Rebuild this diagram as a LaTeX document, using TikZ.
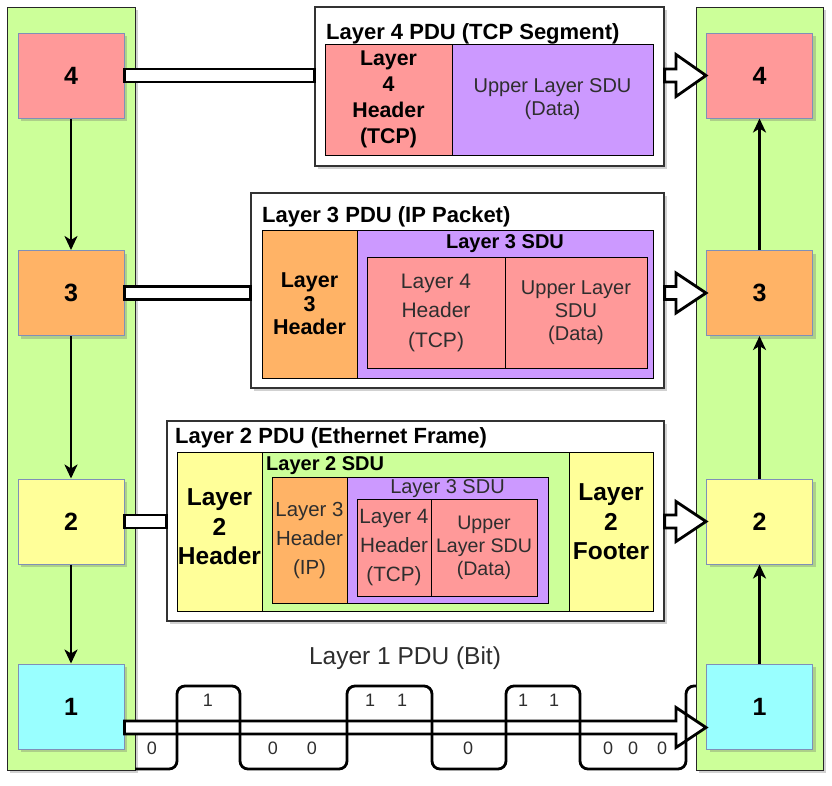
\documentclass[tikz,border=0pt]{standalone}
\usepackage{fontspec}
\setmainfont{Liberation Sans}
\usetikzlibrary{shadows,arrows.meta,calc}
\definecolor{colgreen}{HTML}{CCFF99}
\definecolor{cred}{HTML}{FF9999}
\definecolor{corange}{HTML}{FFB366}
\definecolor{cyellow}{HTML}{FFFF99}
\definecolor{ccyan}{HTML}{99FFFF}
\definecolor{cpurple}{HTML}{CC99FF}
\definecolor{cborder}{HTML}{7F8FB8}
\definecolor{txtgray}{HTML}{2E2E2E}
\newcommand\myfs[2]{\fontsize{#1}{#2}\selectfont}
\newcommand\hollowarrow[3]{%
  \draw[flatbar] let \p1=(#1), \p2=(#2) in
    (\x1,\y1+6.5pt) -- (\x2-30pt,\y1+6.5pt) -- (\x2-30pt,\y1+#3) -- (\x2,\y1)
    -- (\x2-30pt,\y1-#3) -- (\x2-30pt,\y1-6.5pt) -- (\x1,\y1-6.5pt) -- cycle;}
\begin{document}
\begin{tikzpicture}[x=1pt,y=-1pt,
  shad/.style={drop shadow={shadow xshift=3pt,shadow yshift=-3pt,opacity=0.3,fill=black!60}},
  colbox/.style={draw=black!85,line width=1pt,fill=colgreen,shad,minimum height=763pt,inner sep=0pt},
  layerbox/.style={draw=cborder,line width=1pt,shad,minimum width=106pt,minimum height=85pt,inner sep=0pt,font=\bfseries\myfs{25}{30}},
  pdubox/.style={draw=black!80,line width=1.2pt,fill=white,shad,inner sep=0pt},
  inbox/.style={draw=black,line width=1pt,inner sep=0pt,align=center},
  gtext/.style={text=txtgray},
  pdutitle/.style={inner sep=0pt,font=\bfseries\myfs{22}{26},anchor=base west},
  flatbar/.style={draw=black,line width=2.8pt,fill=white},
  vline/.style={draw=black,line width=2.5pt,-{Stealth[length=14pt,width=13pt,inset=4pt]}},
  bitlbl/.style={inner sep=0pt,text=txtgray,font=\myfs{18}{20}},
]
\useasboundingbox (0,0) rectangle (832,785);

% columns
\node[colbox,minimum width=128pt] (colL) at (71,388.5) {};
\node[colbox,minimum width=127pt] (colR) at (759.5,388.5) {};

% layer boxes
\node[layerbox,fill=cred]    (L4) at (71,75.5) {4};
\node[layerbox,fill=corange] (L3) at (71,293) {3};
\node[layerbox,fill=cyellow] (L2) at (71,521.5) {2};
\node[layerbox,fill=ccyan]   (L1) at (71,706.5) {1};
\node[layerbox,fill=cred]    (R4) at (759.5,75.5) {4};
\node[layerbox,fill=corange] (R3) at (759.5,293) {3};
\node[layerbox,fill=cyellow] (R2) at (759.5,521.5) {2};
\node[layerbox,fill=ccyan]   (R1) at (759.5,706.5) {1};

% vertical connectors
\draw[vline] (L4.south) -- (L3.north);
\draw[vline] (L3.south) -- (L2.north);
\draw[vline] (L2.south) -- (L1.north);
\draw[vline] (R1.north) -- (R2.south);
\draw[vline] (R2.north) -- (R3.south);
\draw[vline] (R3.north) -- (R4.south);

% ---- Layer 4 PDU
\node[pdubox,minimum width=349pt,minimum height=159pt] (P4) at (489.5,86.5) {};
\node[pdutitle] (P4t) at (326,39) {Layer 4 PDU (TCP Segment)};
\node[inbox,fill=cred,minimum width=127pt,minimum height=111pt,font=\bfseries\myfs{21.3}{26}] (P4h) at (388.5,99.5) {Layer\\4\\Header\\(TCP)};
\node[inbox,fill=cpurple,minimum width=201pt,minimum height=111pt,gtext,font=\myfs{20}{23}] (P4d) at (552.5,99.5) {Upper Layer SDU\\(Data)};

% ---- Layer 3 PDU
\node[pdubox,minimum width=413pt,minimum height=195pt] (P3) at (457.5,290.5) {};
\node[pdutitle] (P3t) at (262,222) {Layer 3 PDU (IP Packet)};
\node[inbox,fill=corange,minimum width=95pt,minimum height=148pt,font=\bfseries\myfs{21.5}{23.5}] (P3h) at (309.5,304) {Layer\\3\\Header};
\node[inbox,fill=cpurple,minimum width=296pt,minimum height=148pt] (P3s) at (505,304) {};
\node[inner sep=0pt,anchor=base,font=\bfseries\myfs{20}{24}] (P3st) at (505,248) {Layer 3 SDU};
\node[inbox,fill=cred,minimum width=138pt,minimum height=111pt,gtext,font=\myfs{21}{29.5}] (P3a) at (436,312.5) {Layer 4\\Header\\(TCP)};
\node[inbox,fill=cred,minimum width=142pt,minimum height=111pt,gtext,font=\myfs{20}{23}] (P3b) at (576,312.5) {Upper Layer\\SDU\\(Data)};

% ---- Layer 2 PDU
\node[pdubox,minimum width=497pt,minimum height=200pt] (P2) at (415.5,521) {};
\node[pdutitle] (P2t) at (175,443) {Layer 2 PDU (Ethernet Frame)};
\node[inbox,fill=cyellow,minimum width=85pt,minimum height=159pt] (P2h) at (219.5,531.5) {};
\node[inner sep=0pt,align=center,font=\bfseries\myfs{24.5}{29.5}] (P2ht) at (219.5,527) {Layer\\2\\Header};
\node[inbox,fill=colgreen,minimum width=307pt,minimum height=159pt] (P2s) at (415.5,531.5) {};
\node[inbox,fill=cyellow,minimum width=84pt,minimum height=159pt] (P2f) at (611,531.5) {};
\node[inner sep=0pt,align=center,font=\bfseries\myfs{24.5}{29.5}] (P2ft) at (611,522) {Layer\\2\\Footer};
\node[inner sep=0pt,anchor=base west,font=\bfseries\myfs{20}{24}] (P2st) at (266,470) {Layer 2 SDU};
\node[inbox,fill=corange,minimum width=75pt,minimum height=126pt,gtext,font=\myfs{20.4}{29}] (P2a) at (309.5,540) {Layer 3\\Header\\(IP)};
\node[inbox,fill=cpurple,minimum width=201pt,minimum height=126pt] (P2b) at (447.5,540) {};
\node[inner sep=0pt,anchor=base,gtext,font=\myfs{20}{24}] (P2bt) at (447.5,493) {Layer 3 SDU};
\node[inbox,fill=cred,minimum width=74pt,minimum height=97pt,gtext,font=\myfs{20.7}{29}] (P2c) at (394,547.5) {Layer 4\\Header\\(TCP)};
\node[inbox,fill=cred,minimum width=106pt,minimum height=97pt,gtext,font=\myfs{19.6}{23}] (P2d) at (484,547.5) {Upper\\Layer SDU\\(Data)};

% ---- hollow connectors
\draw[flatbar] ($(L4.east)+(0,-6.5)$) rectangle ($(L4.east -| P4.west)+(0,6.5)$);
\draw[flatbar] ($(L3.east)+(0,-6.5)$) rectangle ($(L3.east -| P3.west)+(0,6.5)$);
\draw[flatbar] ($(L2.east)+(0,-6.5)$) rectangle ($(L2.east -| P2.west)+(0,6.5)$);
\hollowarrow{P4.east |- R4.west}{R4.west}{21pt}
\hollowarrow{P3.east |- R3.west}{R3.west}{20pt}
\hollowarrow{P2.east |- R2.west}{R2.west}{20pt}
\coordinate (b1s) at ($(L1.east)+(0,21)$);
\coordinate (b1e) at ($(R1.west)+(0,21)$);
\hollowarrow{b1s}{b1e}{20pt}

% ---- Layer 1 bits
\node[inner sep=0pt,text=txtgray,font=\myfs{24.5}{28}] (L1t) at (405,658) {Layer 1 PDU (Bit)};
\draw[line width=2.8pt,rounded corners=8pt]
  (135,769) -- (177,769) -- (177,686) -- (240,686) -- (240,769) -- (347,769)
  -- (347,686) -- (432,686) -- (432,769) -- (506,769) -- (506,686) -- (580,686)
  -- (580,769) -- (686,769) -- (686,686) -- (696,686);
\node[bitlbl] (b01) at (152,748) {0};
\node[bitlbl] (b02) at (208,700) {1};
\node[bitlbl] (b03) at (273,748) {0};
\node[bitlbl] (b04) at (312,748) {0};
\node[bitlbl] (b05) at (370,700) {1};
\node[bitlbl] (b06) at (402,700) {1};
\node[bitlbl] (b07) at (468,748) {0};
\node[bitlbl] (b08) at (523,700) {1};
\node[bitlbl] (b09) at (554,700) {1};
\node[bitlbl] (b10) at (608,748) {0};
\node[bitlbl] (b11) at (633,748) {0};
\node[bitlbl] (b12) at (662,748) {0};
\end{tikzpicture}
\end{document}
